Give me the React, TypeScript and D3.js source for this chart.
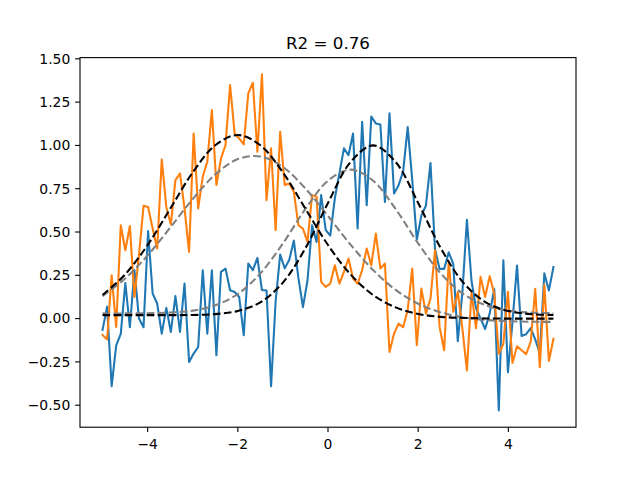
import React from 'react';
import * as d3 from 'd3';

const W = 640;
const H = 480;
const margin = { left: 80, right: 64, top: 57.6, bottom: 52.8 };

const title = 'R2 = 0.76';

// noisy samples (100 points on x = -5..5)
const blueY = [
  -0.065, 0.069, -0.39, -0.155, -0.088, 0.205, -0.05, 0.28, 0.0, -0.05,
  0.505, 0.145, 0.087, -0.087, 0.062, -0.077, 0.13, -0.077, 0.202, -0.25,
  -0.202, -0.164, 0.279, -0.087, 0.279, -0.212, 0.27, 0.289, 0.164, 0.154,
  0.125, -0.096, 0.318, 0.28, 0.35, 0.165, 0.162, -0.39, 0.1, 0.37,
  0.29, 0.34, 0.45, 0.235, 0.066, 0.22, 0.539, 0.443, 0.713, 0.511,
  0.48, 0.694, 0.838, 0.983, 0.944, 1.069, 0.52, 1.137, 0.655, 1.166,
  1.127, 1.121, 0.674, 1.185, 0.723, 0.77, 0.85, 1.106, 0.8, 0.455,
  0.595, 0.653, 0.898, 0.4, 0.287, 0.287, 0.383, 0.316, -0.13, 0.15,
  0.57, 0.22, 0.06, 0.0, -0.06, 0.03, 0.17, -0.53, 0.336, -0.31,
  -0.02, 0.307, -0.1, -0.09, -0.055, -0.12, -0.2, 0.261, 0.163, 0.298,
];

const orangeY = [
  -0.095, -0.12, 0.25, -0.048, 0.539, 0.395, 0.535, 0.125, 0.366, 0.651,
  0.645, 0.52, 0.405, 0.919, 0.645, 0.543, 0.8, 0.838, 0.636, 0.385,
  1.069, 0.636, 0.819, 0.906, 1.204, 0.771, 0.925, 1.002, 1.349, 1.069,
  1.04, 1.006, 1.3, 1.362, 0.963, 1.41, 0.684, 0.983, 0.511, 1.079,
  0.771, 0.78, 0.732, 0.539, 0.52, 0.443, 0.713, 0.703, 0.212, 0.183,
  0.202, 0.308, 0.202, 0.27, 0.347, 0.231, 0.202, 0.279, 0.405, 0.308,
  0.491, 0.289, 0.318, -0.193, -0.087, -0.029, -0.05, 0.05, 0.289, -0.154,
  0.173, 0.029, 0.116, 0.395, -0.048, -0.183, 0.328, 0.039, 0.154, -0.055,
  -0.299, 0.15, -0.055, 0.241, 0.125, 0.245, 0.145, -0.202, -0.145, 0.155,
  -0.256, -0.16, -0.183, -0.205, -0.135, 0.172, -0.28, 0.195, -0.245, -0.116,
];

// dashed fit curves, read at x = -5, -4.5, ..., 5
const fitX = [-5, -4.5, -4, -3.5, -3, -2.5, -2, -1.5, -1, -0.5, 0, 0.5, 1, 1.5, 2, 2.5, 3, 3.5, 4, 4.5, 5];
const blackOrange = [0.136, 0.255, 0.425, 0.634, 0.844, 1.001, 1.06, 1.001, 0.844, 0.634, 0.425, 0.255, 0.136, 0.065, 0.027, 0.01, 0.004, 0.001, 0.0, 0.0, 0.0];
const blackBlue = [0.02, 0.02, 0.02, 0.02, 0.021, 0.026, 0.044, 0.094, 0.208, 0.407, 0.668, 0.904, 1.0, 0.904, 0.668, 0.407, 0.208, 0.094, 0.044, 0.026, 0.021];
const grayOrange = [0.13, 0.231, 0.365, 0.525, 0.69, 0.832, 0.921, 0.936, 0.875, 0.751, 0.592, 0.427, 0.281, 0.166, 0.086, 0.036, 0.007, -0.008, -0.015, -0.018, -0.019];
const grayBlue = [0.03, 0.03, 0.031, 0.035, 0.046, 0.077, 0.142, 0.261, 0.434, 0.633, 0.796, 0.86, 0.796, 0.633, 0.434, 0.261, 0.142, 0.077, 0.046, 0.035, 0.031];

const xTicks = [-4, -2, 0, 2, 4];
const yTicks = [-0.5, -0.25, 0, 0.25, 0.5, 0.75, 1, 1.25, 1.5];

const sampleX = d3.range(blueY.length).map(i => -5 + (i * 10) / (blueY.length - 1));

const minus = (s: string) => s.replace('-', '\u2212');

export default function App() {
  const x = d3.scaleLinear().domain([-5.5, 5.5]).range([margin.left, W - margin.right]);

  const all = [...blueY, ...orangeY, ...blackOrange, ...blackBlue, ...grayOrange, ...grayBlue];
  const lo = d3.min(all) as number;
  const hi = d3.max(all) as number;
  const pad = (hi - lo) * 0.05;
  const y = d3.scaleLinear().domain([lo - pad, hi + pad]).range([H - margin.bottom, margin.top]);

  const noisy = d3.line<number>()
    .x((_, i) => x(sampleX[i]))
    .y(d => y(d));

  const smooth = d3.line<number>()
    .x((_, i) => x(fitX[i]))
    .y(d => y(d))
    .curve(d3.curveCatmullRom);

  const font = '"DejaVu Sans", sans-serif';
  const lw = 2.08; // 1.5pt at 100 dpi
  const dash = '7.7,3.33';
  const x0 = margin.left;
  const x1 = W - margin.right;
  const y0 = H - margin.bottom;
  const y1 = margin.top;

  return (
    <svg width={W} height={H} style={{ position: 'absolute', left: 0, top: 0, background: '#fff' }}>
      <rect x={0} y={0} width={W} height={H} fill="#fff" />
      <defs>
        <clipPath id="plotArea">
          <rect x={x0} y={y1} width={x1 - x0} height={y0 - y1} />
        </clipPath>
      </defs>
      <g clipPath="url(#plotArea)" fill="none" strokeWidth={lw} strokeLinejoin="round">
        <path d={noisy(blueY) || ''} stroke="#1f77b4" strokeLinecap="square" />
        <path d={noisy(orangeY) || ''} stroke="#ff7f0e" strokeLinecap="square" />
        <path d={smooth(grayBlue) || ''} stroke="#808080" strokeDasharray={dash} />
        <path d={smooth(grayOrange) || ''} stroke="#808080" strokeDasharray={dash} />
        <path d={smooth(blackBlue) || ''} stroke="#000" strokeDasharray={dash} />
        <path d={smooth(blackOrange) || ''} stroke="#000" strokeDasharray={dash} />
      </g>
      <rect x={x0} y={y1} width={x1 - x0} height={y0 - y1} fill="none" stroke="#000" strokeWidth={1.1} />
      {xTicks.map(t => (
        <g key={'x' + t}>
          <line x1={x(t)} x2={x(t)} y1={y0} y2={y0 + 4.9} stroke="#000" strokeWidth={1.1} />
          <text x={x(t)} y={y0 + 22} textAnchor="middle" fontFamily={font} fontSize={13.9} fill="#000">
            {minus(d3.format('d')(t))}
          </text>
        </g>
      ))}
      {yTicks.map(t => (
        <g key={'y' + t}>
          <line x1={x0 - 4.9} x2={x0} y1={y(t)} y2={y(t)} stroke="#000" strokeWidth={1.1} />
          <text x={x0 - 9.7} y={y(t)} dy="0.35em" textAnchor="end" fontFamily={font} fontSize={13.9} fill="#000">
            {minus(d3.format('.2f')(t))}
          </text>
        </g>
      ))}
      <text x={(x0 + x1) / 2} y={y1 - 8.3} textAnchor="middle" fontFamily={font} fontSize={16.7} fill="#000">
        {title}
      </text>
    </svg>
  );
}
